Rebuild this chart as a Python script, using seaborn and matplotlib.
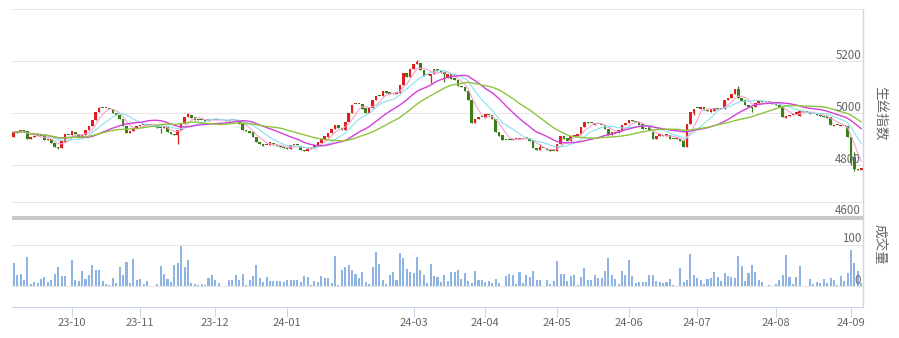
import matplotlib
matplotlib.use("Agg")
import numpy as np
import pandas as pd
import matplotlib.pyplot as plt
from matplotlib import transforms
from matplotlib.lines import Line2D
from matplotlib.patches import Rectangle
import seaborn as sns

# Daily silk index, Sep 2023 - Sep 2024 (one row per trading day)
opens = [
    4906, 4925, 4929, 4931, 4930, 4902, 4908, 4910, 4912, 4911,
    4896, 4899, 4885, 4869, 4866, 4890, 4917, 4914, 4927, 4918,
    4904, 4914, 4933, 4950, 4975, 5004, 5020, 5019, 5020, 5014,
    5002, 4993, 4978, 4950, 4922, 4932, 4943, 4951, 4955, 4956,
    4955, 4956, 4955, 4944, 4941, 4951, 4927, 4921, 4914, 4936,
    4959, 4986, 4993, 4984, 4976, 4974, 4973, 4970, 4975, 4973,
    4974, 4972, 4973, 4969, 4975, 4968, 4974, 4959, 4935, 4931,
    4926, 4908, 4890, 4881, 4877, 4876, 4884, 4876, 4873, 4868,
    4864, 4861, 4876, 4877, 4874, 4858, 4855, 4862, 4866, 4875,
    4886, 4899, 4908, 4923, 4938, 4953, 4944, 4935, 4966, 5001,
    5034, 5036, 5035, 5018, 5001, 5021, 5050, 5067, 5065, 5085,
    5080, 5076, 5073, 5076, 5110, 5154, 5140, 5171, 5190, 5194,
    5168, 5145, 5144, 5150, 5171, 5163, 5158, 5136, 5151, 5136,
    5128, 5106, 5100, 5087, 5049, 4963, 4978, 4986, 4982, 4995,
    4993, 4979, 4927, 4914, 4898, 4897, 4896, 4901, 4899, 4902,
    4899, 4905, 4895, 4866, 4858, 4865, 4864, 4857, 4855, 4853,
    4880, 4913, 4904, 4894, 4912, 4913, 4919, 4945, 4964, 4961,
    4956, 4959, 4956, 4953, 4940, 4917, 4926, 4925, 4930, 4955,
    4962, 4972, 4969, 4966, 4959, 4940, 4946, 4927, 4901, 4910,
    4914, 4912, 4917, 4901, 4899, 4901, 4895, 4869, 4959, 5000,
    5019, 5016, 5022, 5012, 5006, 5010, 5016, 5016, 5017, 5049,
    5057, 5074, 5094, 5058, 5049, 5033, 5025, 5022, 5038, 5045,
    5043, 5042, 5041, 5036, 5033, 5025, 4983, 4988, 4992, 4995,
    4990, 5009, 5006, 5004, 4998, 4997, 4991, 4990, 4985, 4984,
    4950, 4954, 4950, 4952, 4949, 4908, 4830, 4784, 4781,
]
closes = [
    4926, 4929, 4931, 4929, 4901, 4908, 4910, 4912, 4910, 4895,
    4899, 4884, 4868, 4866, 4892, 4918, 4914, 4930, 4918, 4904,
    4914, 4933, 4950, 4975, 5004, 5021, 5019, 5020, 5016, 5000,
    4991, 4977, 4950, 4922, 4932, 4943, 4951, 4956, 4957, 4955,
    4956, 4954, 4943, 4942, 4950, 4927, 4920, 4915, 4936, 4959,
    4986, 4995, 4983, 4975, 4974, 4973, 4970, 4976, 4973, 4974,
    4972, 4973, 4971, 4975, 4974, 4975, 4958, 4934, 4930, 4925,
    4908, 4889, 4879, 4875, 4878, 4887, 4876, 4872, 4868, 4864,
    4861, 4876, 4877, 4876, 4856, 4855, 4862, 4868, 4876, 4888,
    4901, 4910, 4925, 4938, 4954, 4942, 4934, 4966, 5001, 5033,
    5036, 5035, 5016, 5001, 5021, 5050, 5066, 5066, 5085, 5079,
    5075, 5073, 5083, 5110, 5153, 5140, 5171, 5190, 5196, 5166,
    5143, 5146, 5150, 5171, 5163, 5155, 5152, 5151, 5132, 5127,
    5106, 5099, 5087, 5049, 4963, 4978, 4985, 4984, 4996, 4994,
    4979, 4927, 4912, 4897, 4896, 4895, 4901, 4900, 4904, 4901,
    4908, 4893, 4865, 4856, 4868, 4864, 4858, 4855, 4853, 4880,
    4913, 4902, 4892, 4911, 4914, 4921, 4947, 4965, 4963, 4960,
    4961, 4957, 4953, 4940, 4917, 4926, 4925, 4935, 4955, 4963,
    4972, 4971, 4967, 4956, 4937, 4937, 4933, 4901, 4910, 4918,
    4913, 4919, 4899, 4899, 4904, 4891, 4869, 4959, 5004, 5017,
    5018, 5024, 5012, 5009, 5015, 5019, 5015, 5017, 5049, 5057,
    5072, 5091, 5060, 5045, 5032, 5023, 5021, 5040, 5049, 5044,
    5042, 5041, 5036, 5032, 5025, 4985, 4990, 4992, 4997, 5003,
    5008, 5006, 5004, 4998, 4996, 4991, 4990, 4984, 4983, 4953,
    4956, 4953, 4953, 4949, 4908, 4810, 4783, 4782, 4788,
]
# shadows that reach beyond the candle body (day index -> price)
wick_highs = {25: 5025, 51: 4999, 118: 5203, 154: 4880, 212: 5104, 246: 4850}
wick_lows = {13: 4861, 43: 4925, 48: 4882, 122: 5117, 126: 5118,
             199: 4992, 216: 5004, 245: 4800, 246: 4778}
volumes = [
    57, 27, 29, 15, 71, 5, 10, 7, 17, 22,
    10, 15, 29, 46, 24, 24, 0, 63, 15, 12,
    37, 17, 27, 51, 39, 39, 12, 5, 2, 20,
    7, 46, 27, 59, 7, 66, 15, 17, 5, 12,
    0, 0, 5, 49, 29, 17, 10, 51, 56, 98,
    46, 63, 7, 5, 2, 5, 2, 20, 27, 15,
    7, 0, 0, 15, 15, 27, 15, 29, 2, 15,
    24, 51, 20, 10, 22, 12, 12, 12, 12, 10,
    15, 15, 15, 15, 10, 24, 22, 2, 12, 10,
    24, 20, 20, 7, 73, 2, 39, 46, 51, 39,
    29, 20, 34, 10, 5, 46, 83, 54, 15, 5,
    27, 34, 15, 80, 68, 41, 34, 32, 71, 39,
    27, 7, 54, 24, 22, 10, 27, 12, 33, 35,
    39, 17, 32, 12, 7, 37, 15, 15, 10, 12,
    7, 17, 7, 0, 24, 29, 27, 5, 34, 7,
    27, 22, 37, 15, 15, 0, 15, 5, 12, 61,
    29, 29, 12, 24, 27, 2, 22, 44, 15, 15,
    27, 20, 20, 37, 68, 27, 17, 5, 37, 27,
    63, 24, 7, 10, 10, 10, 27, 27, 12, 10,
    7, 10, 17, 2, 0, 44, 10, 15, 78, 27,
    20, 15, 5, 17, 20, 34, 22, 12, 32, 24,
    22, 20, 73, 49, 12, 32, 51, 34, 15, 10,
    0, 2, 0, 5, 15, 27, 76, 22, 5, 22,
    49, 0, 0, 17, 5, 10, 7, 17, 7, 20,
    15, 2, 24, 12, 32, 88, 56, 37, 8,
]
month_starts = [17, 37, 59, 80, 117, 138, 159, 180, 200, 223, 245]
month_labels = ["23-10", "23-11", "23-12", "24-01", "24-03", "24-04",
                "24-05", "24-06", "24-07", "24-08", "24-09"]
price_levels = [5200, 5000, 4800, 4600]
volume_levels = [100, 0]
ma_windows = [5, 10, 20, 30]
ma_colors = {5: "#f4a3cf", 10: "#88e3ee", 20: "#d43fd9", 30: "#8cc63f"}
ma_widths = {5: 0.8, 10: 0.8, 20: 1.0, 30: 1.0}

UP, DOWN = "#dd1f1f", "#3b7d17"
GRID, AXIS, LABEL = "#e6e6e6", "#ccd6eb", "#666666"

sns.set_theme(style="white")
plt.rcParams["font.family"] = ["Noto Sans CJK SC", "DejaVu Sans"]

W, H = 899, 338
fig = plt.figure(figsize=(W / 100, H / 100), dpi=100)
fig.patch.set_facecolor("white")


def pane(left, top, right, bottom):
    return fig.add_axes([left / W, 1 - bottom / H, (right - left) / W, (bottom - top) / H])


PLOT_L, PLOT_R = 12, 863
ax = pane(PLOT_L, 9.3, PLOT_R, 202)
axv = pane(PLOT_L, 245, PLOT_R, 307)

n = len(closes)
df = pd.DataFrame({"day": np.arange(n), "open": opens, "close": closes, "volume": volumes})
df["high"] = df[["open", "close"]].max(axis=1)
df["low"] = df[["open", "close"]].min(axis=1)
for d, v in wick_highs.items():
    df.loc[d, "high"] = v
for d, v in wick_lows.items():
    df.loc[d, "low"] = v
for w in ma_windows:
    df[f"MA{w}"] = df["close"].rolling(w, min_periods=1).mean()

# candlesticks
colors = np.where(df["close"] >= df["open"], UP, DOWN)
body_lo = df[["open", "close"]].min(axis=1)
body_h = (df["close"] - df["open"]).abs().clip(lower=4)
ax.vlines(df["day"], df["low"], df["high"], colors=colors, linewidth=0.9, zorder=2)
ax.bar(df["day"], body_h, bottom=body_lo, width=0.76, color=colors, linewidth=0, zorder=3)

# moving averages
for w in ma_windows:
    sns.lineplot(data=df, x="day", y=f"MA{w}", ax=ax, color=ma_colors[w],
                 linewidth=ma_widths[w], zorder=4)

ax.set_xlim(-0.5, n - 0.5)
ax.set_ylim(5400 - (202 - 9.3) / 51.9 * 200, 5400)
ax.set_xlabel("")
ax.set_ylabel("")
ax.set_xticks([])
ax.set_yticks(price_levels[:-1])
ax.tick_params(left=False, labelleft=False, bottom=False)
ax.grid(axis="y", color=GRID, linewidth=0.75)
ax.grid(axis="x", visible=False)
for side in ("left", "right"):
    ax.spines[side].set_visible(False)
for side in ("top", "bottom"):
    ax.spines[side].set_color(GRID)
    ax.spines[side].set_linewidth(0.75)
ax.set_facecolor("none")

# volume
sns.barplot(data=df, x="day", y="volume", native_scale=True, width=0.6,
            color="#8db4e2", saturation=1, errorbar=None, ax=axv, linewidth=0, zorder=3)
axv.set_xlim(-0.5, n - 0.5)
axv.set_ylim(-(307 - 286) / 41 * 100, 100)
axv.set_xlabel("")
axv.set_ylabel("")
axv.set_yticks([0])
axv.tick_params(axis="y", left=False, labelleft=False)
axv.grid(axis="y", color=GRID, linewidth=0.75)
axv.grid(axis="x", visible=False)
axv.set_xticks(month_starts, month_labels)
axv.tick_params(axis="x", bottom=True, direction="out", length=7.2, width=0.75,
                color=AXIS, labelcolor=LABEL, labelsize=8, pad=1)
for side in ("left", "right"):
    axv.spines[side].set_visible(False)
axv.spines["top"].set_color(GRID)
axv.spines["top"].set_linewidth(0.75)
axv.spines["bottom"].set_color(AXIS)
axv.spines["bottom"].set_linewidth(0.75)
axv.set_facecolor("none")


def level_label(a, value):
    shift = transforms.ScaledTranslation(-2 / 100, 2.5 / 100, fig.dpi_scale_trans)
    tr = transforms.blended_transform_factory(a.transAxes, a.transData) + shift
    a.text(1, value, str(value), transform=tr, ha="right", va="baseline",
           fontsize=8.3, color=LABEL, clip_on=False, zorder=6)


for v in price_levels:
    level_label(ax, v)
for v in volume_levels:
    level_label(axv, v)

# pane separator and right axis line
fig.add_artist(Rectangle((PLOT_L / W, 1 - 220 / H), (PLOT_R - PLOT_L) / W, 4 / H,
                         transform=fig.transFigure, facecolor="#c8c8c8", linewidth=0))
fig.add_artist(Line2D([PLOT_R / W, PLOT_R / W], [1 - 9.3 / H, 1 - 307 / H],
                      transform=fig.transFigure, color=AXIS, linewidth=1.0))

fig.text(880 / W, 1 - 113 / H, "生丝指数", rotation=-90, ha="center", va="center",
         fontsize=9.8, color=LABEL)
fig.text(879.5 / W, 1 - 244 / H, "成交量", rotation=-90, ha="center", va="center",
         fontsize=9.8, color=LABEL)

fig.savefig("out.png", dpi=100, facecolor="white")
